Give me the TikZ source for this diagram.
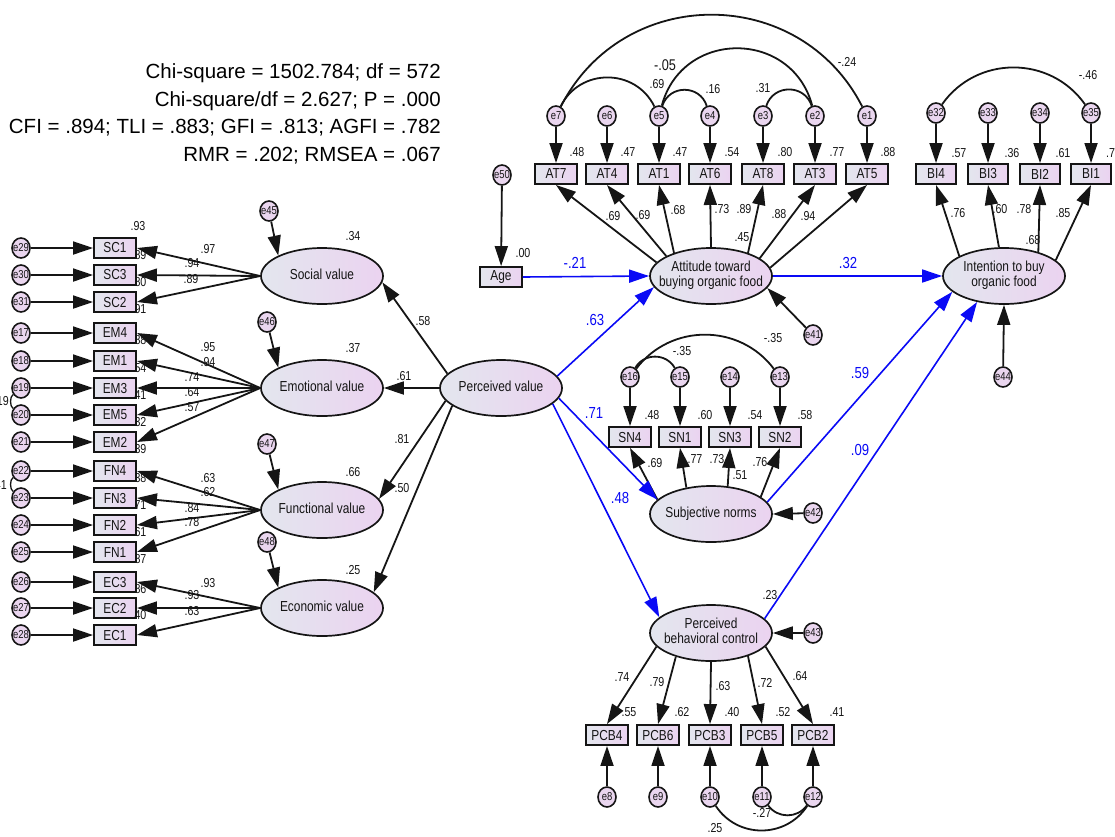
\documentclass[tikz,border=0pt]{standalone}
\usepackage{fontspec}
\setmainfont{Liberation Sans}
\newfontfamily\narrowf[FakeStretch=0.82]{Liberation Sans}
\usetikzlibrary{arrows.meta,shapes.geometric}
\definecolor{fillL}{HTML}{E3E6EE}
\definecolor{fillR}{HTML}{EBD3F0}
\definecolor{errfill}{HTML}{EAD6EF}
\definecolor{ink}{HTML}{151515}
\definecolor{pblue}{HTML}{0A0AF5}
\newcommand{\zw}[1]{\makebox[0pt]{#1}}
\newcommand{\ctext}[1]{\makebox[0pt]{\begin{tabular}{@{}c@{}}#1\end{tabular}}}
\tikzset{
  latent/.style={ellipse, draw=ink, line width=1.7pt, left color=fillL, right color=fillR, minimum width=122pt, minimum height=56pt, inner sep=0pt, text=ink, font=\narrowf\fontsize{14.5}{15.5}\selectfont},
  obs/.style={rectangle, draw=ink, line width=1.9pt, left color=fillL, right color=fillR, minimum width=42pt, minimum height=20pt, inner sep=0pt, text=ink, font=\narrowf\fontsize{14.5}{14.5}\selectfont},
  err/.style={ellipse, draw=ink, line width=1.6pt, fill=errfill, minimum width=18pt, minimum height=20pt, inner sep=0pt, text=ink, font=\narrowf\fontsize{11.5}{11.5}\selectfont},
  num/.style={inner sep=0pt, text=ink, font=\narrowf\fontsize{13}{13}\selectfont},
  bnum/.style={inner sep=0pt, text=pblue, font=\narrowf\fontsize{16}{16}\selectfont},
  stat/.style={inner sep=0pt, text=black, font=\fontsize{20.5}{20.5}\selectfont, anchor=base east},
  arr/.style={draw=ink, line width=1.8pt, -{Triangle[length=20pt,width=13pt]}},
  barr/.style={draw=pblue, line width=1.6pt, -{Triangle[length=20pt,width=13pt]}},
  cov/.style={draw=ink, line width=1.8pt},
}
\begin{document}
\begin{tikzpicture}[x=1pt,y=-1pt]
\useasboundingbox (0,0) rectangle (1115,836);
\clip (0,0) rectangle (1115,836);

% fit statistics
\node[stat] (s1) at (441,78) {Chi-square = 1502.784; df = 572};
\node[stat] (s2) at (441,106) {Chi-square/df = 2.627; P = .000};
\node[stat] (s3) at (441,133) {CFI = .894; TLI = .883; GFI = .813; AGFI = .782};
\node[stat] (s4) at (441,161) {RMR = .202; RMSEA = .067};

% latent variables
\node[latent] (soc) at (322,276) {\ctext{Social value}};
\node[latent] (emo) at (322,388) {\ctext{Emotional value}};
\node[latent] (fun) at (322,510) {\ctext{Functional value}};
\node[latent] (eco) at (322,608) {\ctext{Economic value}};
\node[latent] (pv)  at (501,388) {\ctext{Perceived value}};
\node[latent] (att) at (711,276) {\ctext{Attitude toward\\buying organic food}};
\node[latent] (int) at (1004,276) {\ctext{Intention to buy\\organic food}};
\node[latent] (sn)  at (711,514) {\ctext{Subjective norms}};
\node[latent] (pbc) at (711,633) {\ctext{Perceived\\behavioral control}};

% disturbances
\node[err] (e45) at (269,211) {\zw{e45}};
\node[err] (e46) at (267,322) {\zw{e46}};
\node[err] (e47) at (267,444) {\zw{e47}};
\node[err] (e48) at (267,542) {\zw{e48}};
\node[err] (e41) at (813,335) {\zw{e41}};
\node[err] (e42) at (813,513) {\zw{e42}};
\node[err] (e43) at (813,633) {\zw{e43}};
\node[err] (e44) at (1003,377) {\zw{e44}};
\node[err] (e50) at (502,175) {\zw{e50}};
\node[obs] (age) at (501,277) {Age};

% left indicators
\foreach \n/\y/\e/\lat in {SC1/248/e29/soc, SC3/275/e30/soc, SC2/302/e31/soc, EM4/333/e17/emo, EM1/361/e18/emo, EM3/388/e19/emo, EM5/415/e20/emo, EM2/442/e21/emo, FN4/471/e22/fun, FN3/498/e23/fun, FN2/525/e24/fun, FN1/552/e25/fun, EC3/582/e26/eco, EC2/608/e27/eco, EC1/635/e28/eco}{
  \node[err] (\e) at (21,\y) {\zw{\e}};
  \node[obs] (\n) at (115,\y) {\n};
}
% AT indicators
\foreach \n/\e/\x in {AT7/e7/556, AT4/e6/607, AT1/e5/659, AT6/e4/710, AT8/e3/763, AT3/e2/815, AT5/e1/867}{
  \node[err] (\e) at (\x,116) {\zw{\e}};
  \node[obs] (\n) at (\x,174) {\n};
}
% BI indicators
\foreach \n/\e/\x in {BI4/e32/936, BI3/e33/988, BI2/e34/1040, BI1/e35/1091}{
  \node[err] (\e) at (\x,113) {\zw{\e}};
  \node[obs, minimum width=40pt] (\n) at (\x,174) {\n};
}
% SN indicators
\foreach \n/\e/\x in {SN4/e16/630, SN1/e15/680, SN3/e14/730, SN2/e13/780}{
  \node[err] (\e) at (\x,377) {\zw{\e}};
  \node[obs] (\n) at (\x,437) {\n};
}
% PCB indicators
\foreach \n/\e/\x in {PCB4/e8/607, PCB6/e9/658, PCB3/e10/710, PCB5/e11/762, PCB2/e12/813}{
  \node[err] (\e) at (\x,797) {\zw{\e}};
  \node[obs] (\n) at (\x,735) {\n};
}

% black numeric labels
\foreach \t/\x/\y [count=\i] in {
  .93/138/226, .89/139/255, .80/139/282, .91/139/309, .88/139/340, .54/139/368, .41/139/395, .32/139/422, .39/139/449, .38/139/478, .71/139/505, .61/139/532, .87/139/559, .86/139/589, .40/139/615,
  .97/208/249, .94/192/263, .89/191/279,
  .95/208/347, .94/208/362, .74/192/377, .64/192/392, .57/192/407,
  .63/208/478, .62/208/492, .84/192/508, .78/192/522,
  .93/208/583, .93/192/595, .63/192/611,
  .34/353/236, .37/353/348, .66/353/472, .25/353/570,
  .58/423/321, .61/404/376, .81/402/439, .50/402/488,
  .00/523/253, .45/742/237, .68/1033/240, .51/740/475, .23/770/595,
  .48/577/152, .47/628/152, .47/680/152, .54/732/152, .80/785/152, .77/837/152, .88/888/152,
  -.24/847/62, .69/657/84, .16/713/89, .31/763/88,
  .69/613/216, .69/643/215, .68/678/210, .73/722/209, .89/744/209, .88/779/214, .94/808/216,
  .57/959/153, .36/1012/153, .61/1063/153, -.46/1088/75,
  .76/958/213, .60/1000/209, .78/1024/209, .85/1063/213,
  .48/652/415, .60/705/415, .54/755/415, .58/805/415, -.35/682/351, -.35/773/338,
  .69/655/463, .77/695/459, .73/717/459, .76/760/462,
  .74/622/677, .79/657/682, .63/723/686, .72/765/683, .64/800/676,
  .55/629/712, .62/682/712, .40/732/712, .52/783/712, .41/837/712,
  .25/715/828, -.27/762/813}{
  \node[num] (lab\i) at (\x,\y) {\t};
}
\node[num, font=\narrowf\fontsize{15.5}{15.5}\selectfont] (labA) at (665,65) {-.05};
\node[num, anchor=west] (labB) at (1106,153) {.72};
\node[num, anchor=east] (labC) at (9,401) {.19};
\node[num, anchor=east] (labD) at (7,485) {.41};

% blue labels
\foreach \t/\x/\y [count=\i] in {-.21/575/263, .63/595/320, .71/594/413, .48/620/498, .32/848/263, .59/860/373, .09/860/450}{
  \node[bnum] (blab\i) at (\x,\y) {\t};
}

% left measurement arrows
\foreach \n/\e/\lat in {SC1/e29/soc, SC3/e30/soc, SC2/e31/soc, EM4/e17/emo, EM1/e18/emo, EM3/e19/emo, EM5/e20/emo, EM2/e21/emo, FN4/e22/fun, FN3/e23/fun, FN2/e24/fun, FN1/e25/fun, EC3/e26/eco, EC2/e27/eco, EC1/e28/eco}{
  \draw[arr] (\e) -- (\n);
  \draw[arr] (\lat.west) -- (\n.east);
}
\draw[cov, line width=1.3pt] (e19.220) to[out=200,in=160,looseness=0.7] (e20.140);
\draw[cov, line width=1.3pt] (e22.220) to[out=200,in=160,looseness=0.7] (e23.140);

% AT arrows
\foreach \n/\e/\a in {AT7/e7/166, AT4/e6/156, AT1/e5/148, AT6/e4/90, AT8/e3/32, AT3/e2/20, AT5/e1/8}{
  \draw[arr] (\e) -- (\n);
  \draw[arr] (att.\a) -- (\n.south);
}
\draw[cov] (e7) to[out=63,in=117,looseness=1.17] (e1);
\draw[cov] (e7) to[out=64,in=116,looseness=1.18] (e5);
\draw[cov] (e5) to[out=75,in=105,looseness=1.35] (e2);
\draw[cov] (e5) to[out=72,in=108,looseness=1.3] (e4);
\draw[cov] (e3) to[out=72,in=108,looseness=1.3] (e2);

% BI arrows
\foreach \n/\e/\a in {BI4/e32/156, BI3/e33/100, BI2/e34/35, BI1/e35/17}{
  \draw[arr] (\e) -- (\n);
  \draw[arr] (int.\a) -- (\n.south);
}
\draw[cov] (e32) to[out=55,in=125,looseness=1.08] (e35);

% SN arrows
\foreach \n/\e/\a in {SN4/e16/165, SN1/e15/133, SN3/e14/59, SN2/e13/19}{
  \draw[arr] (\e) -- (\n);
  \draw[arr] (sn.\a) -- (\n.south);
}
\draw[cov] (e16) to[out=60,in=120,looseness=1.13] (e15);
\draw[cov] (e16) to[out=53,in=127,looseness=1.06] (e13);

% PCB arrows
\foreach \n/\e/\a in {PCB4/e8/194, PCB6/e9/214, PCB3/e10/270, PCB5/e11/328, PCB2/e12/346}{
  \draw[arr] (\e) -- (\n);
  \draw[arr] (pbc.\a) -- (\n.north);
}
\draw[cov] (e10) to[out=-57,in=-123,looseness=1.1] (e12);
\draw[cov] (e11) to[out=-54,in=-126,looseness=1.08] (e12);

% second-order paths
\draw[arr] (e45) -- (soc.north west);
\draw[arr] (e46) -- (emo.north west);
\draw[arr] (e47) -- (fun.north west);
\draw[arr] (e48) -- (eco.north west);
\draw[arr] (pv.165) -- (soc.-6);
\draw[arr] (pv.west) -- (emo.east);
\draw[arr] (pv.193) -- (fun.11);
\draw[arr] (pv.200) -- (eco.17);

% structural paths
\draw[arr] (e50) -- (age);
\draw[barr] (age.east) -- (att.west);
\draw[barr] (pv.12) -- (att.191);
\draw[barr] (pv.-10) -- (sn.165);
\draw[barr] (pv.-17) -- (pbc.163);
\draw[barr] (att.east) -- (int.west);
\draw[barr] (sn.12) -- (int.197);
\draw[barr] (pbc.15) -- (int.224);
\draw[arr] (e41) -- (att.-12);
\draw[arr] (e42) -- (sn.east);
\draw[arr] (e43) -- (pbc.east);
\draw[arr] (e44) -- (int.south);
\end{tikzpicture}
\end{document}
